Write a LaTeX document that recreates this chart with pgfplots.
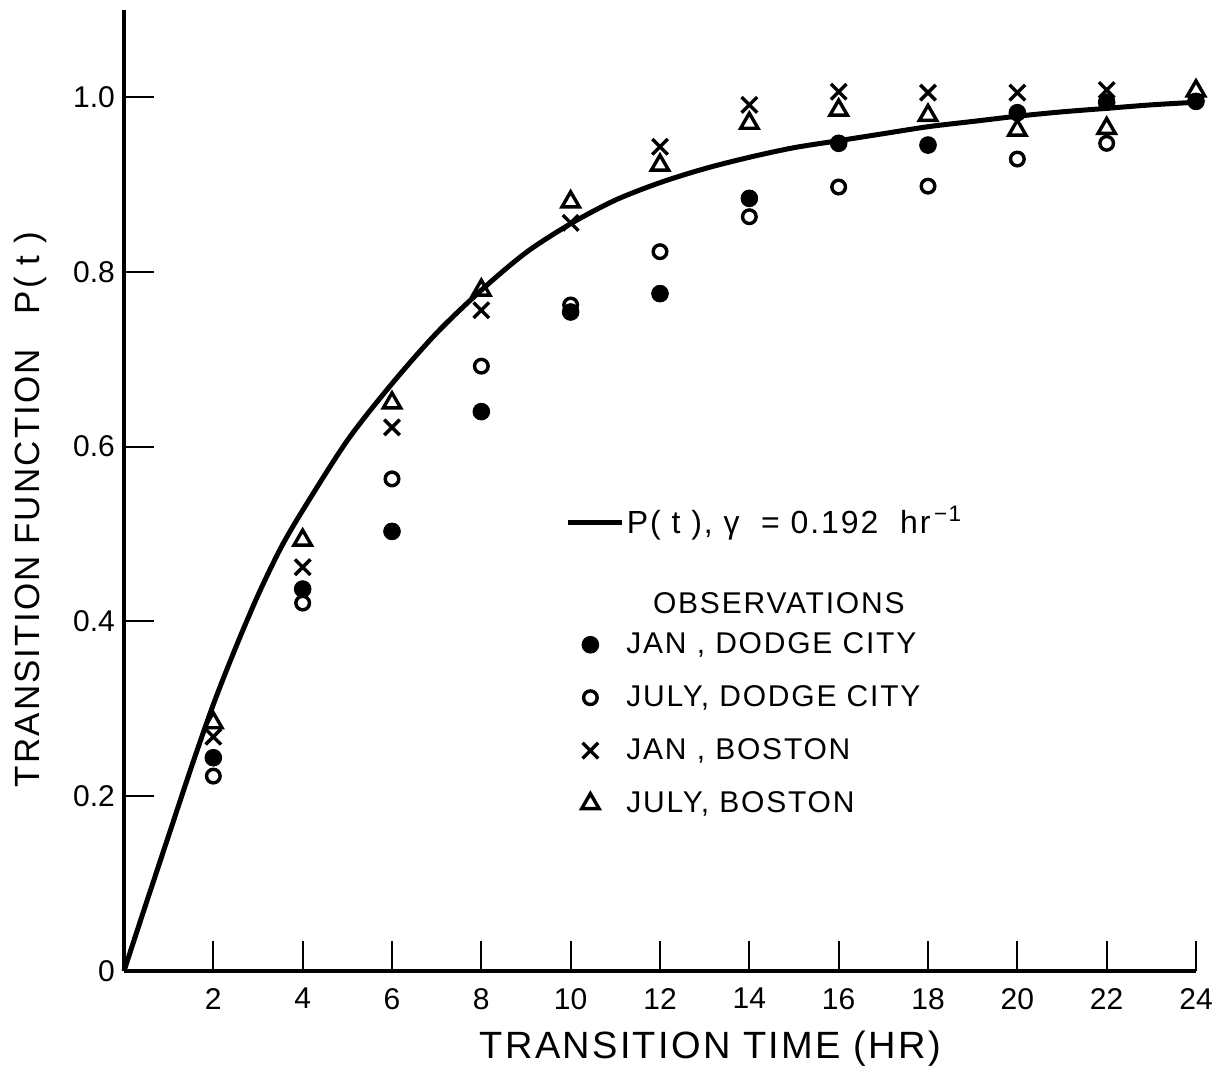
\documentclass[border=0pt]{standalone}
\usepackage{pgfplots}
\pgfplotsset{compat=1.18}
\usepackage{fontspec}
\setmainfont{Liberation Sans}
\newfontfamily\widefont[LetterSpace=6]{Liberation Sans}

\begin{document}
\begin{tikzpicture}
\begin{axis}[
  scale only axis, width=536pt, height=480.7pt,
  xmin=0, xmax=24, ymin=0, ymax=1.1,
  axis x line=bottom, axis y line=left,
  axis line style={line width=2pt, -},
  xtick={2,4,...,24}, ytick={0,0.2,0.4,0.6,0.8,1.0},
  yticklabels={0,0.2,0.4,0.6,0.8,1.0},
  /pgf/number format/assume math mode=true,
  tick align=inside, major tick length=15pt,
  tick style={line width=1pt, black},
  ticklabel style={font=\fontsize{15}{15}\selectfont},
  xticklabel style={yshift=-5pt},
  yticklabel style={xshift=-1pt},
  xlabel={\widefont TRANSITION TIME (HR)},
  ylabel={\widefont TRANSITION FUNCTION\quad P( t )},
  xlabel style={font=\fontsize{19}{19}\selectfont, at={(axis description cs:0.547,0)}, anchor=center, yshift=-39pt},
  ylabel style={font=\fontsize{17.5}{17.5}\selectfont, at={(axis description cs:-0.0877,0.48)}, anchor=center},
  legend cell align=left,
  legend style={at={(axis cs:9.94,0.392)}, anchor=north west, draw=none, fill=none,
    inner sep=0pt, row sep=10.5pt, font=\widefont\fontsize{15}{15}\selectfont,
    /tikz/every even column/.append style={column sep=4pt}},
  clip=false,
]
\addplot[black, line width=2.5pt, smooth, no markers, forget plot]
  coordinates {(0,0) (0.5,0.078) (1,0.155) (1.5,0.232) (2,0.305) (2.5,0.37) (3,0.43) (3.5,0.483) (4,0.527) (5,0.607) (6,0.672) (7,0.73) (8,0.779) (9,0.822) (10,0.855) (11,0.882) (12,0.902) (13,0.918) (14,0.931) (15,0.942) (16,0.950) (17,0.958) (18,0.966) (19,0.972) (20,0.978) (21,0.983) (22,0.987) (23,0.991) (24,0.994)};

\draw[black, line width=2.5pt] (axis cs:9.94,0.5126) -- ++(27pt,0pt);
\node[anchor=west, inner sep=0pt, font=\widefont\fontsize{16}{16}\selectfont] at (axis cs:11.25,0.5126) {P( t ),\ γ\ \ = 0.192\ \ hr\textsuperscript{\,−1}};
\node[anchor=center, inner sep=0pt, font=\widefont\fontsize{15}{15}\selectfont] at (axis cs:14.66,0.421) {OBSERVATIONS};

\pgfplotsset{every axis plot/.append style={
  legend image code/.code={\path[draw=none,fill=none] (0pt,0pt) -- (27pt,0pt);\draw[mark repeat=2,mark phase=2] plot coordinates {(0pt,0pt)(11pt,0pt)(27pt,0pt)};}}}

\addplot[only marks, mark=*, mark size=4.2pt, black, fill=black]
  coordinates {(2,0.244) (4,0.437) (6,0.503) (8,0.640) (10,0.754) (12,0.775) (14,0.884) (16,0.947) (18,0.945) (20,0.982) (22,0.994) (24,0.995)};
\addlegendentry{JAN , DODGE CITY}
\addplot[only marks, mark=o, mark size=3.4pt, black, line width=1.7pt]
  coordinates {(2,0.223) (4,0.421) (6,0.563) (8,0.692) (10,0.762) (12,0.823) (14,0.863) (16,0.897) (18,0.898) (20,0.929) (22,0.947)};
\addlegendentry{JULY, DODGE CITY}
\addplot[only marks, mark=x, mark size=5.5pt, black, line width=1.7pt]
  coordinates {(2,0.268) (4,0.462) (6,0.622) (8,0.756) (10,0.856) (12,0.943) (14,0.991) (16,1.006) (18,1.005) (20,1.005) (22,1.008)};
\addlegendentry{JAN , BOSTON}
\addplot[only marks, mark=triangle, mark size=5pt, black, line width=1.7pt]
  coordinates {(2,0.284) (4,0.493) (6,0.650) (8,0.779) (10,0.880) (12,0.922) (14,0.970) (16,0.985) (18,0.979) (20,0.962) (22,0.964) (24,1.007)};
\addlegendentry{JULY, BOSTON}
\end{axis}
\pgfresetboundingbox
\path[use as bounding box] ([shift={(-62pt,-49pt)}]current axis.south west) rectangle ([shift={(11pt,4.8pt)}]current axis.north east);
\end{tikzpicture}
\end{document}
